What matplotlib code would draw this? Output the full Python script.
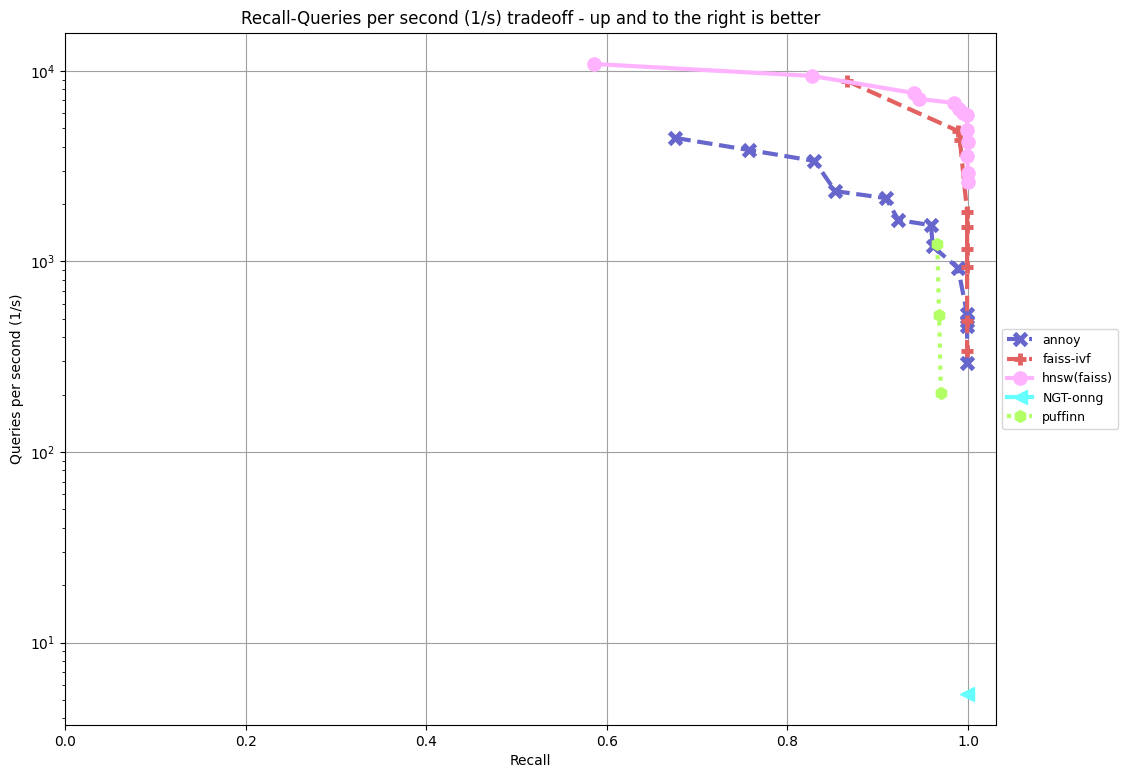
import numpy as np
import matplotlib.pyplot as plt

# données
annoy_recall = [0.676, 0.757, 0.830, 0.853, 0.909, 0.923, 0.959, 0.961, 0.989, 0.999, 0.999, 0.999, 0.999]
annoy_qps = [4450, 3850, 3370, 2340, 2150, 1650, 1550, 1200, 923, 530, 490, 460, 292]

ivf_recall = [0.866, 0.989, 0.991, 0.999, 0.999, 0.999, 0.999, 0.999, 0.999]
ivf_qps = [8860, 4840, 4340, 1815, 1510, 1160, 933, 485, 338]

hnsw_recall = [0.586, 0.827, 0.940, 0.946, 0.984, 0.990, 0.994, 0.999, 0.999, 1.0, 0.999, 1.0, 1.0]
hnsw_qps = [10880, 9420, 7660, 7130, 6800, 6310, 6010, 5880, 4900, 4240, 3580, 2910, 2610]

ngt_recall = [0.999]
ngt_qps = [5.4]

puffinn_recall = [0.966, 0.968, 0.970]
puffinn_qps = [1233, 522, 203]

fig = plt.figure(figsize=(11.26, 7.78), dpi=100)
ax = fig.add_axes([65/1126, 1-725/778, (996-65)/1126, (725-32.5)/778])

ax.plot(annoy_recall, annoy_qps, '--', marker='x', color=(0.4, 0.4, 0.8), lw=3, ms=8, mew=3.5, label='annoy')
ax.plot(ivf_recall, ivf_qps, '--', marker='+', color=(0.89, 0.38, 0.38), lw=3, ms=8, mew=3.5, label='faiss-ivf')
ax.plot(hnsw_recall, hnsw_qps, '-', marker='o', color=(1.0, 0.7, 1.0), lw=3, ms=9.5, label='hnsw(faiss)')
ax.plot(ngt_recall, ngt_qps, '-', marker='<', color=(0.4, 1.0, 1.0), lw=3, ms=10, label='NGT-onng')
ax.plot(puffinn_recall, puffinn_qps, ':', marker='h', color=(0.7, 1.0, 0.4), lw=3, ms=8.5, label='puffinn')

ax.set_yscale('log')
ax.set_xlim(0, 1.031)
ax.set_xlabel('Recall')
ax.set_ylabel('Queries per second (1/s)')
ax.set_title('Recall-Queries per second (1/s) tradeoff - up and to the right is better')
ax.grid(True, which='major', color='#a0a0a0')
ax.legend(loc='center left', bbox_to_anchor=(1, 0.5), prop={'size': 9})

fig.savefig('out.png', dpi=100)
